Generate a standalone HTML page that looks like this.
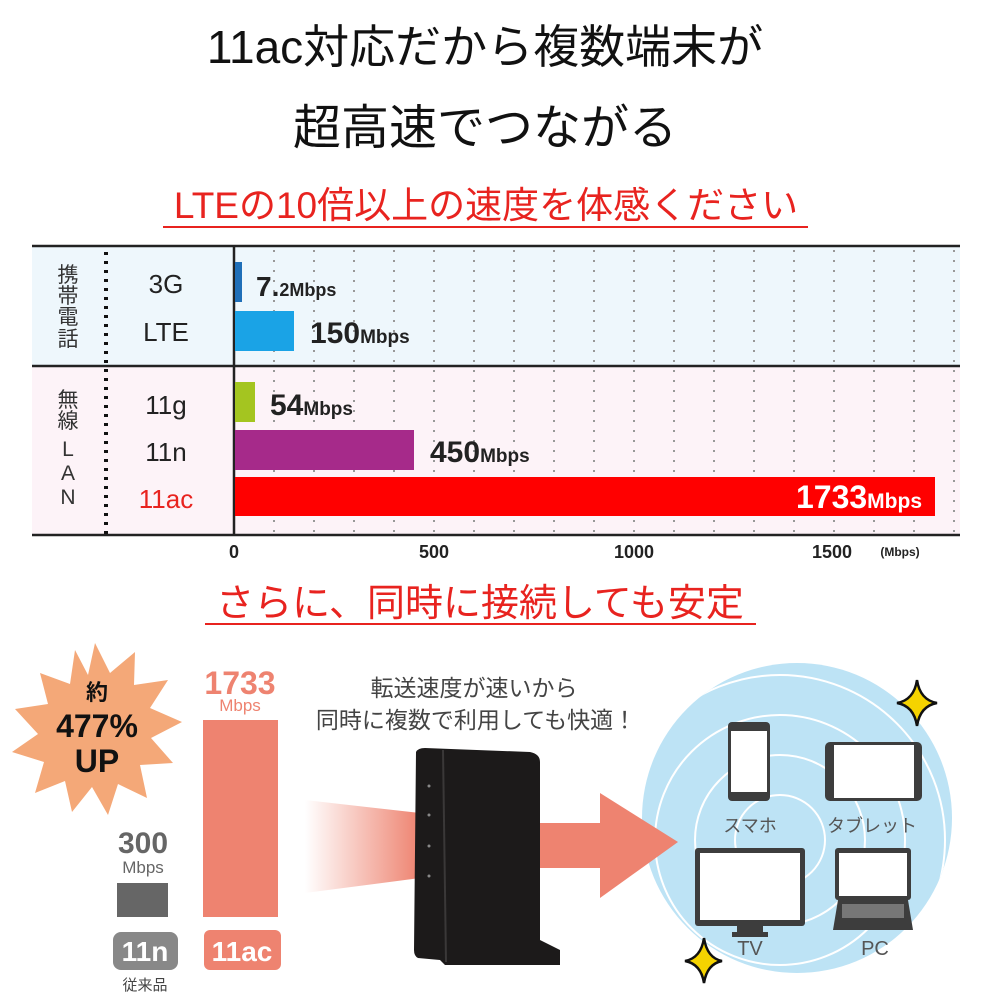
<!DOCTYPE html>
<html><head><meta charset="utf-8"><style>
body{margin:0;background:#fff}
svg{display:block}
text{font-family:"Liberation Sans","Noto Sans CJK JP",sans-serif}
</style></head><body>
<svg width="1000" height="1000" viewBox="0 0 1000 1000" xmlns="http://www.w3.org/2000/svg">
<defs>
<linearGradient id="beam" x1="0" x2="1" y1="0" y2="0">
<stop offset="0" stop-color="#ee8370" stop-opacity="0"/>
<stop offset="1" stop-color="#ee8370"/>
</linearGradient>
<clipPath id="cc"><circle cx="797" cy="818" r="155"/></clipPath>
</defs>
<text x="485" y="63" font-size="46" text-anchor="middle" fill="#111">11ac対応だから複数端末が</text>
<text x="485" y="144" font-size="48" text-anchor="middle" fill="#111">超高速でつながる</text>
<text x="486" y="218" font-size="37" text-anchor="middle" fill="#e8231f">LTEの10倍以上の速度を体感ください</text>
<line x1="163" y1="227" x2="808" y2="227" stroke="#e8231f" stroke-width="2"/>

<!-- chart -->
<rect x="32" y="247" width="928" height="119" fill="#eef7fc"/>
<rect x="32" y="367" width="928" height="168" fill="#fdf3f8"/>
<g stroke="#999" stroke-width="2" stroke-dasharray="2 8">
<line x1="274" y1="250" x2="274" y2="533"/><line x1="314" y1="250" x2="314" y2="533"/><line x1="354" y1="250" x2="354" y2="533"/><line x1="394" y1="250" x2="394" y2="533"/><line x1="434" y1="250" x2="434" y2="533"/><line x1="474" y1="250" x2="474" y2="533"/><line x1="514" y1="250" x2="514" y2="533"/><line x1="554" y1="250" x2="554" y2="533"/><line x1="594" y1="250" x2="594" y2="533"/><line x1="634" y1="250" x2="634" y2="533"/><line x1="674" y1="250" x2="674" y2="533"/><line x1="714" y1="250" x2="714" y2="533"/><line x1="754" y1="250" x2="754" y2="533"/><line x1="794" y1="250" x2="794" y2="533"/><line x1="834" y1="250" x2="834" y2="533"/><line x1="874" y1="250" x2="874" y2="533"/><line x1="914" y1="250" x2="914" y2="533"/><line x1="954" y1="250" x2="954" y2="533"/>
</g>
<line x1="106" y1="252" x2="106" y2="535" stroke="#111" stroke-width="4" stroke-dasharray="3 6"/>
<line x1="32" y1="246" x2="960" y2="246" stroke="#222" stroke-width="2.5"/>
<line x1="32" y1="366" x2="960" y2="366" stroke="#222" stroke-width="2.5"/>
<line x1="32" y1="535" x2="960" y2="535" stroke="#222" stroke-width="2.5"/>
<line x1="234" y1="246" x2="234" y2="535" stroke="#222" stroke-width="2.5"/>
<rect x="235" y="262" width="7" height="40" fill="#1f6fb8"/>
<rect x="235" y="311" width="59" height="40" fill="#1aa3e6"/>
<rect x="235" y="382" width="20" height="40" fill="#a4c520"/>
<rect x="235" y="430" width="179" height="40" fill="#a62a8a"/>
<rect x="235" y="477" width="700" height="39" fill="#ff0000"/>
<g font-weight="bold" fill="#222">
<text x="256" y="296" font-size="28">7.<tspan font-size="18">2Mbps</tspan></text>
<text x="310" y="343" font-size="30">150<tspan font-size="19">Mbps</tspan></text>
<text x="270" y="415" font-size="30">54<tspan font-size="19">Mbps</tspan></text>
<text x="430" y="462" font-size="30">450<tspan font-size="19">Mbps</tspan></text>
<text x="922" y="508" font-size="32" fill="#fff" text-anchor="end">1733<tspan font-size="21">Mbps</tspan></text>
</g>
<g font-size="26" fill="#222" text-anchor="middle">
<text x="166" y="293">3G</text><text x="166" y="341">LTE</text>
<text x="166" y="414">11g</text><text x="166" y="461">11n</text>
<text x="166" y="508" fill="#e8231f">11ac</text>
</g>
<g font-size="21" fill="#333" text-anchor="middle">
<text x="68" y="282">携</text><text x="68" y="303">帯</text><text x="68" y="324">電</text><text x="68" y="346">話</text>
<text x="68" y="407">無</text><text x="68" y="428">線</text><text x="68" y="456">L</text><text x="68" y="480">A</text><text x="68" y="504">N</text>
</g>
<g font-size="18" font-weight="bold" fill="#222" text-anchor="middle">
<text x="234" y="558">0</text><text x="434" y="558">500</text><text x="634" y="558">1000</text><text x="832" y="558">1500</text>
<text x="900" y="556" font-size="12">(Mbps)</text>
</g>

<text x="480" y="616" font-size="38" text-anchor="middle" fill="#e8231f">さらに、同時に接続しても安定</text>
<line x1="205" y1="624" x2="756" y2="624" stroke="#e8231f" stroke-width="2"/>

<!-- starburst -->
<polygon fill="#f4a878" points="95,643 110,673 135,652 134,685 168,680 150,708 182,722 151,738 173,763 140,765 147,798 118,784 108,815 92,787 72,812 65,781 35,793 44,762 12,752 38,734 15,709 48,704 40,673 70,684 75,650 88,675"/>
<g font-weight="bold" fill="#111" text-anchor="middle">
<text x="97" y="700" font-size="22">約</text>
<text x="97" y="737" font-size="32">477%</text>
<text x="97" y="772" font-size="32">UP</text>
</g>
<!-- bars -->
<text x="240" y="694" font-size="32" font-weight="bold" fill="#ee8370" text-anchor="middle">1733</text>
<text x="240" y="711" font-size="17" fill="#ee8370" text-anchor="middle">Mbps</text>
<rect x="203" y="720" width="75" height="197" fill="#ee8370"/>
<text x="143" y="853" font-size="30" font-weight="bold" fill="#666" text-anchor="middle">300</text>
<text x="143" y="873" font-size="17" fill="#666" text-anchor="middle">Mbps</text>
<rect x="117" y="883" width="51" height="34" fill="#666"/>
<rect x="113" y="932" width="65" height="38" rx="8" fill="#888"/>
<text x="145" y="961" font-size="28" font-weight="bold" fill="#fff" text-anchor="middle">11n</text>
<rect x="204" y="930" width="77" height="40" rx="6" fill="#ee8370"/>
<text x="242" y="961" font-size="28" font-weight="bold" fill="#fff" text-anchor="middle">11ac</text>
<text x="145" y="990" font-size="15" fill="#444" text-anchor="middle">従来品</text>

<text x="474" y="696" font-size="23" fill="#444" text-anchor="middle">転送速度が速いから</text>
<text x="476" y="728" font-size="23" fill="#444" text-anchor="middle">同時に複数で利用しても快適！</text>

<!-- beam -->
<polygon points="305,800 420,813 420,878 305,893" fill="url(#beam)"/>
<!-- router -->
<path d="M416,752 Q418,748 425,748 L530,752 Q540,754 540,762 L540,940 L560,950 L560,965 L445,965 L440,960 L418,958 Q414,956 414,950 Z" fill="#1c1a1a"/>
<line x1="443" y1="750" x2="446" y2="962" stroke="#3a3838" stroke-width="2"/>
<g fill="#888"><circle cx="429" cy="786" r="1.5"/><circle cx="429" cy="815" r="1.5"/><circle cx="429" cy="846" r="1.5"/><circle cx="429" cy="876" r="1.5"/></g>

<!-- circle -->
<circle cx="797" cy="818" r="155" fill="#bde3f5"/>
<g clip-path="url(#cc)" fill="none" stroke="#fff" stroke-width="2">
<circle cx="780" cy="840" r="45"/><circle cx="780" cy="840" r="85"/><circle cx="780" cy="840" r="125"/><circle cx="780" cy="840" r="165"/>
</g>
<!-- arrow -->
<rect x="540" y="823" width="65" height="45" fill="#ee8370"/>
<polygon points="600,793 600,898 678,842" fill="#ee8370"/>
<!-- phone -->
<rect x="728" y="722" width="42" height="79" rx="4" fill="#3d3d3d"/>
<rect x="731" y="731" width="36" height="61" fill="#fff"/>
<!-- tablet -->
<rect x="825" y="742" width="97" height="59" rx="5" fill="#3d3d3d"/>
<rect x="834" y="745" width="80" height="53" fill="#fff"/>
<text x="750" y="832" font-size="18" fill="#555" text-anchor="middle">スマホ</text>
<text x="872" y="832" font-size="18" fill="#555" text-anchor="middle">タブレット</text>
<!-- tv -->
<rect x="695" y="848" width="110" height="78" rx="3" fill="#3d3d3d"/>
<rect x="700" y="853" width="100" height="67" fill="#fff"/>
<rect x="737" y="926" width="26" height="10" fill="#3d3d3d"/>
<rect x="732" y="932" width="36" height="5" fill="#3d3d3d"/>
<!-- pc -->
<rect x="835" y="848" width="76" height="52" rx="3" fill="#3d3d3d"/>
<rect x="839" y="853" width="68" height="43" fill="#fff"/>
<path d="M838,900 L908,900 L913,930 L833,930 Z" fill="#3d3d3d"/>
<rect x="842" y="904" width="62" height="14" fill="#777"/>
<text x="750" y="955" font-size="20" fill="#555" text-anchor="middle">TV</text>
<text x="875" y="955" font-size="20" fill="#555" text-anchor="middle">PC</text>
<!-- stars -->
<path d="M917,680 Q920,700 937,703 Q920,706 917,726 Q914,706 897,703 Q914,700 917,680Z" fill="#f5d300" stroke="#111" stroke-width="2.5"/>
<path d="M704,938 Q707,958 722,961 Q707,964 704,983 Q701,964 685,961 Q701,958 704,938Z" fill="#f5d300" stroke="#111" stroke-width="2.5"/>
</svg>
</body></html>
